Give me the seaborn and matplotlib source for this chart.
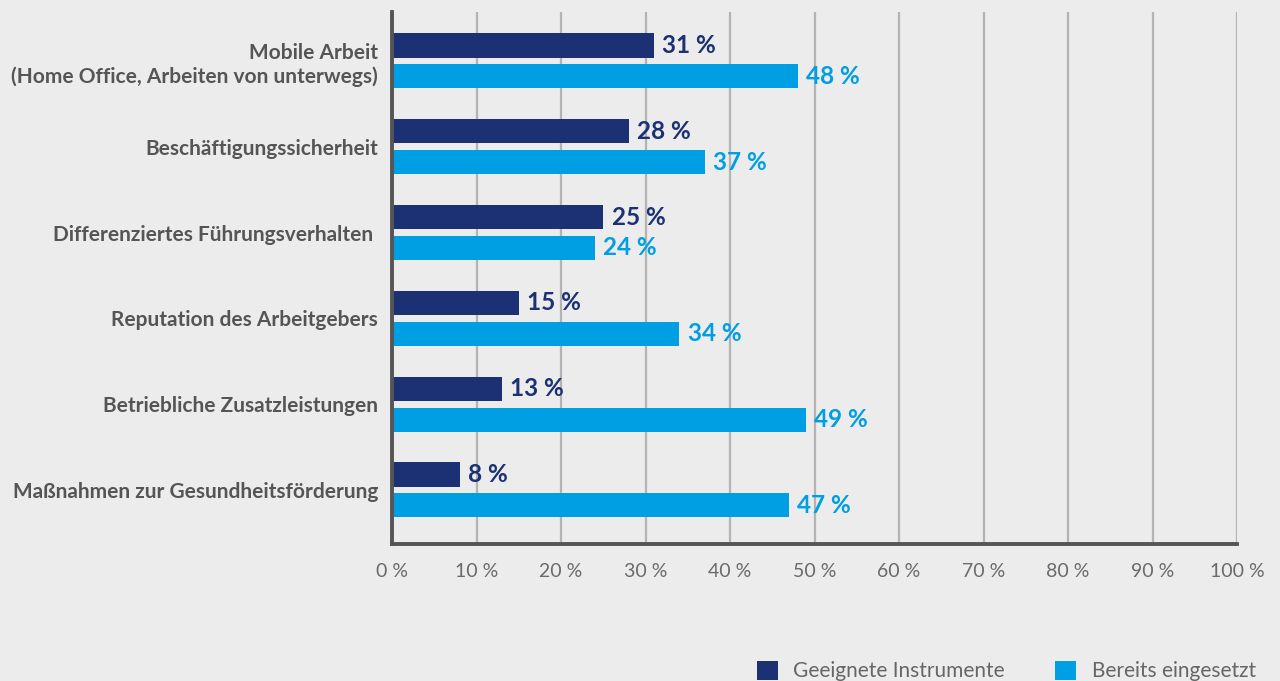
import matplotlib
matplotlib.use("Agg")
import matplotlib.pyplot as plt
import seaborn as sns
import pandas as pd

categories = [
    "Mobile Arbeit\n(Home Office, Arbeiten von unterwegs)",
    "Beschäftigungssicherheit",
    "Differenziertes Führungsverhalten ",
    "Reputation des Arbeitgebers",
    "Betriebliche Zusatzleistungen",
    "Maßnahmen zur Gesundheitsförderung",
]
series_names = ["Geeignete Instrumente", "Bereits eingesetzt"]
geeignet = [31, 28, 25, 15, 13, 8]
eingesetzt = [48, 37, 24, 34, 49, 47]
x_ticks = [0, 10, 20, 30, 40, 50, 60, 70, 80, 90, 100]
x_tick_labels = [f"{v} %" for v in x_ticks]

colors = ["#1b3174", "#009fe3"]
bg = "#ececec"

sns.set_theme(style="white")
plt.rcParams["font.family"] = ["Lato", "DejaVu Sans"]

df = pd.DataFrame({
    "Kategorie": categories * 2,
    "Wert": geeignet + eingesetzt,
    "Serie": [series_names[0]] * len(categories) + [series_names[1]] * len(categories),
})

fig = plt.figure(figsize=(12.8, 6.81), dpi=100, facecolor=bg)
ax = fig.add_axes([392 / 1280, 1 - 544 / 681, (1237 - 392) / 1280, (544 - 12) / 681])
ax.set_facecolor(bg)

sns.barplot(data=df, y="Kategorie", x="Wert", hue="Serie", orient="h",
            palette=colors, width=0.72, gap=0.22, saturation=1,
            ax=ax, legend=False, zorder=3, linewidth=0, edgecolor="none")

ax.set_xlim(0, 100)
ax.set_ylim(5.63, -0.57)
ax.set_xticks(x_ticks)
ax.set_xticklabels(x_tick_labels, fontsize=14, color="#6a6a6a", fontweight="normal")
ax.set_yticks(range(len(categories)))
ax.set_yticklabels(categories, fontsize=15, color="#555555", fontweight="bold",
                   linespacing=1.2)
ax.tick_params(axis="x", length=0, pad=14)
ax.tick_params(axis="y", length=0, pad=10)
ax.set_xlabel("")
ax.set_ylabel("")

ax.grid(axis="x", color="#b3b3b3", linewidth=1.6, zorder=0)
ax.grid(axis="y", visible=False)
for s in ["top", "right"]:
    ax.spines[s].set_visible(False)
for s in ["left", "bottom"]:
    ax.spines[s].set_color("#555555")
    ax.spines[s].set_linewidth(2.8)
    ax.spines[s].set_zorder(4)

vals = [geeignet, eingesetzt]
for cont, col, v in zip(ax.containers, colors, vals):
    ax.bar_label(cont, labels=[f"{x} %" for x in v], padding=6, color=col,
                 fontsize=17.5, fontweight="bold")

from matplotlib.patches import Patch
handles = [Patch(facecolor=c, edgecolor="none") for c in colors]
fig.legend(handles, series_names, loc="upper left",
           bbox_to_anchor=(757 / 1280, 1 - 661 / 681), ncol=2, frameon=False,
           fontsize=15, labelcolor="#666666", handlelength=1.0, handleheight=1.0,
           handletextpad=0.75, columnspacing=2.4, borderaxespad=0, borderpad=0)

fig.savefig("out.png", dpi=100, facecolor=bg)
